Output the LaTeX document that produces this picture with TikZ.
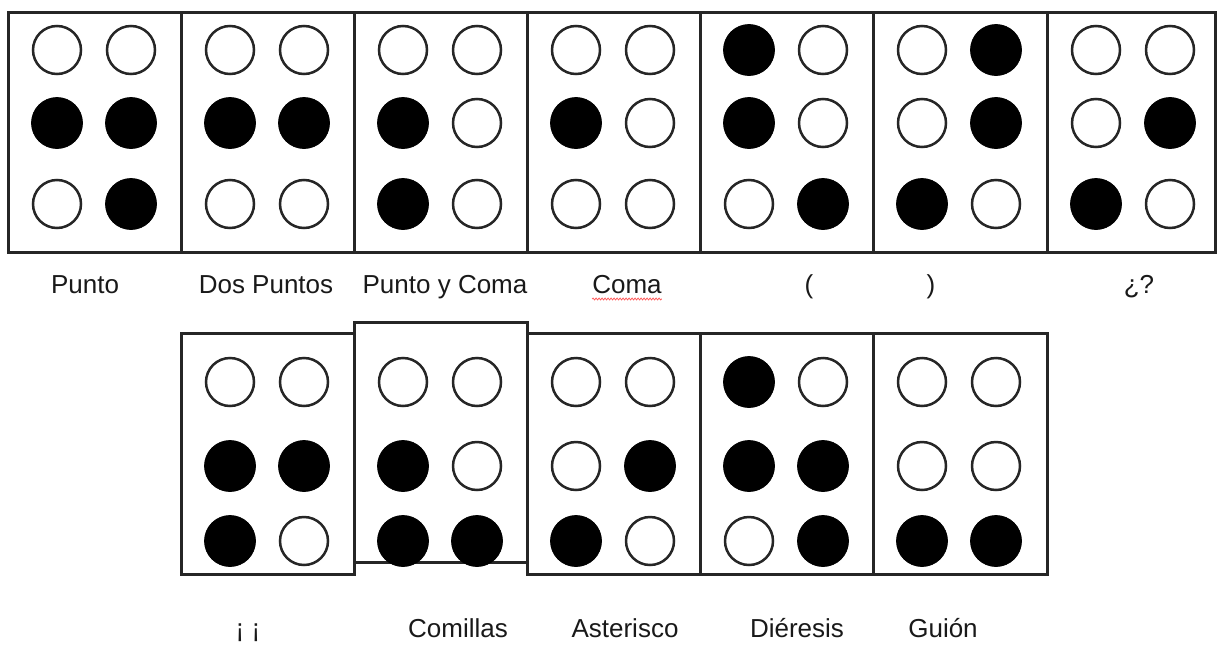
\documentclass[tikz,border=0pt]{standalone}
\usepackage{fontspec}
\setmainfont{Liberation Sans}
\usetikzlibrary{decorations.pathmorphing}
\tikzset{
  cell/.style={draw=black!85, line width=3pt, rectangle, inner sep=0pt, outer sep=0pt, anchor=north west, fill=white},
  dotw/.style={draw=black!85, line width=2.5pt, fill=white, minimum size=48pt},
  dotb/.style={draw=black, line width=0.8pt, fill=black, minimum size=51pt},
  dotstyle/.code={\ifnum#1=1\pgfkeysalso{dotb}\else\pgfkeysalso{dotw}\fi},
  lab/.style={font=\fontsize{26}{30}\selectfont, text=black!90, anchor=base, inner sep=0pt},
  squiggle/.style={draw=red!65, line width=0.8pt, decorate, decoration={snake, amplitude=0.9pt, segment length=3pt}}
}
% #1 name, #2 x0, #3 y0, #4 width, #5 height, #6 rows y/left/right
\newcommand\bcell[6]{%
  \node[cell, minimum width=#4pt, minimum height=#5pt] (#1) at (#2,#3) {};
  \foreach \yy/\ll/\rr [count=\k] in {#6} {
    \node[circle, inner sep=0pt, dotstyle=\ll] (#1-\k l) at (#2+49,\yy) {};
    \node[circle, inner sep=0pt, dotstyle=\rr] (#1-\k r) at (#2+123,\yy) {};
  }%
}
\begin{document}
\begin{tikzpicture}[x=1pt, y=-1pt]
\useasboundingbox (0,0) rectangle (1217,645);
% top row
\bcell{t1}{8}{12}{173}{240}{50/0/0,123/1/1,204/0/1}
\bcell{t2}{181}{12}{173}{240}{50/0/0,123/1/1,204/0/0}
\bcell{t3}{354}{12}{173}{240}{50/0/0,123/1/0,204/1/0}
\bcell{t4}{527}{12}{173}{240}{50/0/0,123/1/0,204/0/0}
\bcell{t5}{700}{12}{173}{240}{50/1/0,123/1/0,204/0/1}
\bcell{t6}{873}{12}{174}{240}{50/0/1,123/0/1,204/1/0}
\bcell{t7}{1047}{12}{168}{240}{50/0/0,123/0/1,204/1/0}
% top labels
\node[lab] (lt1) at (85,293) {Punto};
\node[lab] (lt2) at (266,293) {Dos Puntos};
\node[lab] (lt3) at (445,293) {Punto y Coma};
\node[lab] (lt4) at (627,293) {Coma};
\node[lab] (lt5) at (809,293) {(};
\node[lab] (lt6) at (931,293) {)};
\node[lab] (lt7) at (1139,293) {¿?};
\draw[squiggle] ([yshift=-6pt]lt4.base west) -- ([yshift=-6pt]lt4.base east);
% bottom row
\bcell{b1}{181}{333}{173}{241}{382/0/0,466/1/1,541/1/0}
\bcell{b3}{527}{333}{173}{241}{382/0/0,466/0/1,541/1/0}
\bcell{b4}{700}{333}{173}{241}{382/1/0,466/1/1,541/0/1}
\bcell{b5}{873}{333}{174}{241}{382/0/0,466/0/0,541/1/1}
\bcell{b2}{354}{322}{173}{240}{382/0/0,466/1/0,541/1/1}
% bottom labels
\node[lab] (lb1) at (248,637) {¡ ¡};
\node[lab] (lb2) at (458,637) {Comillas};
\node[lab] (lb3) at (625,637) {Asterisco};
\node[lab] (lb4) at (797,637) {Diéresis};
\node[lab] (lb5) at (943,637) {Guión};
\end{tikzpicture}
\end{document}
